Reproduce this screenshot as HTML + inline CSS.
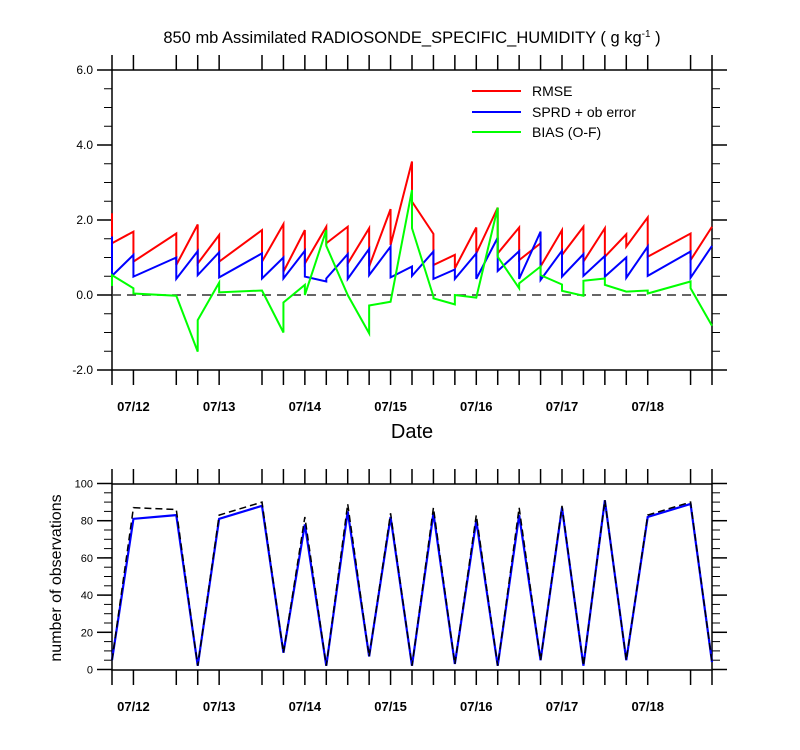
<!DOCTYPE html>
<html><head><meta charset="utf-8"><style>
html,body{margin:0;padding:0;background:#fff;}
svg{display:block;font-family:"Liberation Sans",Arial,sans-serif;}
</style></head><body>
<svg id="c" width="800" height="750" viewBox="0 0 800 750" xmlns="http://www.w3.org/2000/svg">
<text x="412" y="43" font-size="16.5" text-anchor="middle">850 mb Assimilated RADIOSONDE_SPECIFIC_HUMIDITY ( g kg<tspan dy="-6" font-size="10">-1</tspan><tspan dy="6"> )</tspan></text>
<text x="412" y="438" font-size="20" text-anchor="middle">Date</text>
<text transform="translate(61,578) rotate(-90)" font-size="16" text-anchor="middle">number of observations</text>
<g id="legend">
<line x1="472" y1="91" x2="521" y2="91" stroke="#ff0000" stroke-width="2"/>
<text x="532" y="96" font-size="14">RMSE</text>
<line x1="472" y1="112" x2="521" y2="112" stroke="#0000ff" stroke-width="2"/>
<text x="532" y="117" font-size="14">SPRD + ob error</text>
<line x1="472" y1="132" x2="521" y2="132" stroke="#00ff00" stroke-width="2"/>
<text x="532" y="137" font-size="14">BIAS (O-F)</text>
</g>
</svg>
<script>
// 6-hour steps from 07/11 18Z
const steps = [0,1,3,4,5,7,8,9,10,11,12,13,14,15,16,17,18,19,20,21,22,23,24,25,27,28];
const rmseArrive = [2.18,1.69,1.64,1.88,1.60,1.73,1.89,1.73,1.82,1.82,1.78,2.29,3.56,1.63,1.07,1.80,2.33,1.80,1.38,1.73,1.82,1.78,1.62,2.07,1.64,1.82];
const rmseLeave  = [1.38,0.89,0.80,0.84,0.89,0.89,0.62,0.84,1.38,0.84,0.76,1.33,2.49,0.80,0.71,1.11,1.11,0.93,0.76,1.07,0.89,1.02,1.29,1.02,0.93,1.82];
const sprdArrive = [1.56,1.07,1.00,1.17,1.14,1.11,1.00,1.18,0.36,1.09,1.23,1.29,0.76,1.16,0.68,1.11,1.53,1.17,1.69,1.18,1.09,1.04,1.00,1.29,1.16,1.31];
const sprdLeave  = [0.51,0.49,0.43,0.53,0.47,0.44,0.44,0.49,0.44,0.43,0.53,0.47,0.51,0.43,0.43,0.43,0.64,0.43,0.40,0.49,0.51,0.49,0.46,0.51,0.46,1.31];
const biasArrive = [0.24,0.18,-0.02,-1.51,0.33,0.12,-1.00,0.27,1.73,0.00,-1.02,-0.18,2.80,-0.04,-0.25,-0.07,2.33,0.18,0.76,0.28,-0.02,0.44,0.09,0.12,0.36,-0.82];
const biasLeave  = [0.53,0.04,-0.02,-0.67,0.07,0.12,-0.20,0.00,1.31,0.00,-0.28,-0.18,1.78,-0.09,0.00,-0.07,1.02,0.31,0.53,0.11,0.38,0.27,0.09,0.04,0.18,-0.82];
const obsUsed  = [5,81,83,2,81,88,9,78,2,85,7,82,2,84,3,80,2,83,5,87,2,91,5,82,89,4];
const obsTotal = [5,87,86,2,83,90,9,82,2,89,7,84,2,87,3,83,2,87,5,88,2,91,5,83,90,4];
const topYTicks = [6,4,2,0,-2];
const topYLabels = ["6.0","4.0","2.0","0.0","-2.0"];
const botYTicks = [0,20,40,60,80,100];
const dateSteps = [1,5,9,13,17,21,25];
const dateLabels = ["07/12","07/13","07/14","07/15","07/16","07/17","07/18"];

const NS="http://www.w3.org/2000/svg";
const svg=document.getElementById('c');
const X0=112,X1=712,SMAX=28;
const xs=s=>X0+(X1-X0)*s/SMAX;
const yTop=v=>295-37.5*v;
const yBot=v=>669.5-1.86*v;
function mk(tag,attrs,parent){const e=document.createElementNS(NS,tag);for(const k in attrs)e.setAttribute(k,attrs[k]);(parent||svg).appendChild(e);return e;}

function axes(name,top,bottom,yfn,ymaj,ymin,ylabels){
  const g=mk('g',{});
  
  
  const fr=mk('rect',{x:X0,y:top,width:X1-X0,height:bottom-top,fill:'none',stroke:'#000','stroke-width':1.5},g);
  
  
  steps.forEach(s=>{
    const x=xs(s);
    mk('line',{x1:x,y1:bottom,x2:x,y2:bottom+15,stroke:'#000','stroke-width':1.5},g);
    mk('line',{x1:x,y1:top,x2:x,y2:top-15,stroke:'#000','stroke-width':1.5},g);
  });
  ymin.forEach(v=>{const y=yfn(v);
    mk('line',{x1:X0,y1:y,x2:X0-8,y2:y,stroke:'#000','stroke-width':1},g);
    mk('line',{x1:X1,y1:y,x2:X1+8,y2:y,stroke:'#000','stroke-width':1},g);});
  ymaj.forEach((v,i)=>{const y=yfn(v);
    mk('line',{x1:X0,y1:y,x2:X0-15,y2:y,stroke:'#000','stroke-width':1.5},g);
    mk('line',{x1:X1,y1:y,x2:X1+15,y2:y,stroke:'#000','stroke-width':1.5},g);
    const t=mk('text',{x:X0-19,y:y+4,'font-size':name==='top'?12:11,'text-anchor':'end'},g);
    t.textContent=ylabels[i];
    
    
  });
  dateSteps.forEach((s,i)=>{
    const t=mk('text',{x:xs(s),y:bottom+41,'font-size':13,'font-weight':'bold','text-anchor':'middle'},g);
    t.textContent=dateLabels[i];
    
    
  });
}
const topMin=[];for(let v=-2;v<=6;v+=0.5)topMin.push(v);
const botMin=[];for(let v=0;v<=100;v+=5)botMin.push(v);
axes('top',70,370,yTop,topYTicks,topMin,topYLabels);
axes('bottom',484,670,yBot,botYTicks,botMin,botYTicks.map(String));

const zl=mk('line',{x1:X0,y1:yTop(0),x2:X1,y2:yTop(0),stroke:'#333','stroke-width':1.5,'stroke-dasharray':'9,6'});



function saw(arr,lea,color,name){
  const pts=[];
  steps.forEach((s,i)=>{pts.push(xs(s)+','+yTop(arr[i]));pts.push(xs(s)+','+yTop(lea[i]));});
  const p=mk('polyline',{points:pts.join(' '),fill:'none',stroke:color,'stroke-width':2,'stroke-linejoin':'miter'});
  
  
}
saw(rmseArrive,rmseLeave,'#ff0000','rmse-line');
saw(sprdArrive,sprdLeave,'#0000ff','sprd-line');
saw(biasArrive,biasLeave,'#00ff00','bias-line');

function obs(vals,attrs,name){
  const pts=steps.map((s,i)=>xs(s)+','+yBot(vals[i]));
  const p=mk('polyline',Object.assign({points:pts.join(' '),fill:'none'},attrs));
  
  
}
obs(obsUsed,{stroke:'#0000ff','stroke-width':2.2},'obs-used-line');
obs(obsTotal,{stroke:'#000','stroke-width':1.5,'stroke-dasharray':'7,4'},'obs-total-line');
</script>
</body></html>
